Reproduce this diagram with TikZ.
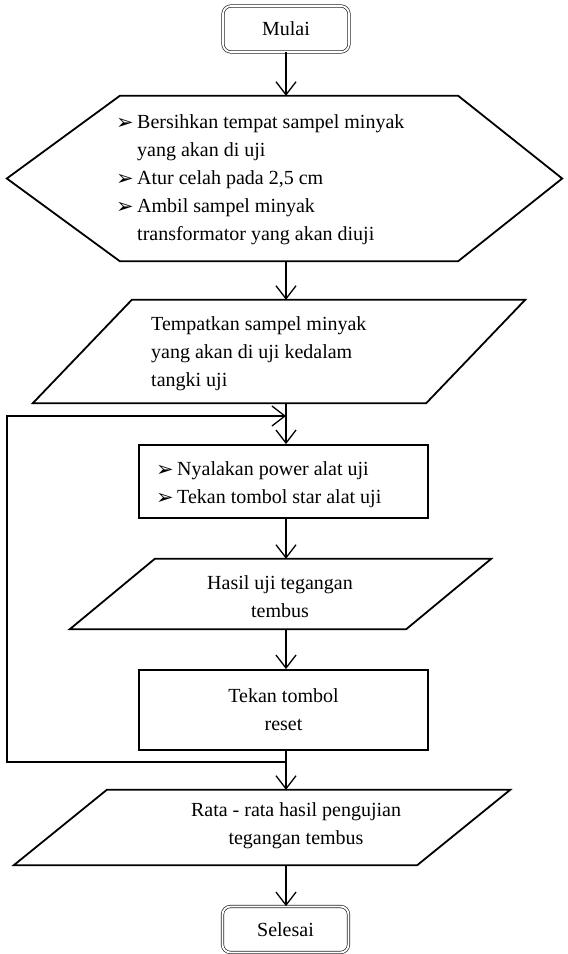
\documentclass[tikz,border=0pt]{standalone}
\usepackage{fontspec}
\setmainfont{Liberation Serif}
\newfontfamily\symfont{DejaVu Sans}
\usetikzlibrary{arrows.meta}
\newcommand\bul{\makebox[21pt][l]{\raisebox{-0.5pt}{\symfont\fontsize{21}{21}\selectfont ➢}}}
\newcommand\ind{\hspace*{21pt}}
\begin{document}
\begin{tikzpicture}[x=1pt,y=-1pt, font=\fontsize{20}{28}\selectfont,
  shapeln/.style={line width=1.8pt, line join=miter},
  conn/.style={line width=1.3pt, -{Straight Barb[length=13pt,width=20pt]}},
  term/.style={draw=black!85, double=white, double distance=1.8pt, line width=0.7pt, rounded corners=8pt, minimum width=126pt, minimum height=46pt, inner sep=0pt},
  box/.style={draw, line width=1.8pt, minimum width=289pt, inner sep=0pt},
  ghost/.style={inner sep=0pt},
  txt/.style={inner sep=0pt, align=left}]
\useasboundingbox (0,0) rectangle (568,954);
\fill[white] (0,0) rectangle (568,954);
\coordinate (ax) at (286,0);
% start
\node[term] (mulai) at (286,29) {Mulai};
% hexagon
\node[ghost, minimum width=338pt, minimum height=165pt] (hex) at (289,178.5) {};
\draw[shapeln] (hex.north west) -- (hex.north east) -- ([xshift=104pt]hex.east) -- (hex.south east) -- (hex.south west) -- ([xshift=-113pt]hex.west) -- cycle;
\node[txt, anchor=west] (hext) at (116,180) {\bul Bersihkan tempat sampel minyak\\\ind yang akan di uji\\\bul Atur celah pada 2,5 cm\\\bul Ambil sampel minyak\\\ind transformator yang akan diuji};
% parallelogram 1
\node[ghost, minimum width=393pt, minimum height=103pt] (p1) at (279,351.5) {};
\draw[shapeln] ([xshift=49.5pt]p1.north west) -- ([xshift=49.5pt]p1.north east) -- ([xshift=-49.5pt]p1.south east) -- ([xshift=-49.5pt]p1.south west) -- cycle;
\node[txt, anchor=west] (p1t) at (151,354) {Tempatkan sampel minyak\\yang akan di uji kedalam\\tangki uji};
% box 2
\node[box, minimum height=73pt] (b2) at (283.5,481.5) {};
\node[txt, anchor=west] (b2t) at (156,485) {\bul Nyalakan power alat uji\\\bul Tekan tombol star alat uji};
% parallelogram 2
\node[ghost, minimum width=336pt, minimum height=70pt] (p2) at (280.5,594) {};
\draw[shapeln] ([xshift=42.5pt]p2.north west) -- ([xshift=42.5pt]p2.north east) -- ([xshift=-42.5pt]p2.south east) -- ([xshift=-42.5pt]p2.south west) -- cycle;
\node[inner sep=0pt, align=center] (p2t) at (280,597) {Hasil uji tegangan\\tembus};
% reset box
\node[box, minimum height=80pt, align=center] (b3) at (283.5,710) {Tekan tombol\\reset};
% parallelogram 3
\node[ghost, minimum width=403pt, minimum height=75pt] (p3) at (262,827.5) {};
\draw[shapeln] ([xshift=46.5pt]p3.north west) -- ([xshift=46.5pt]p3.north east) -- ([xshift=-46.5pt]p3.south east) -- ([xshift=-46.5pt]p3.south west) -- cycle;
\node[inner sep=0pt, align=center] (p3t) at (296,826) {Rata - rata hasil pengujian\\tegangan tembus};
% end
\node[term] (selesai) at (285.5,929.5) {Selesai};
% connectors
\draw[conn] (mulai.south -| ax) -- (hex.north -| ax);
\draw[conn] (hex.south -| ax) -- (p1.north -| ax);
\draw[conn] (p1.south -| ax) -- (b2.north -| ax);
\draw[conn] (b2.south -| ax) -- (p2.north -| ax);
\draw[conn] (p2.south -| ax) -- (b3.north -| ax);
\draw[conn] (b3.south -| ax) -- (p3.north -| ax);
\draw[conn] (p3.south -| ax) -- (selesai.north -| ax);
% loop
\coordinate (jb) at (286,762);
\coordinate (jt) at (286,416);
\coordinate (lx) at (7,0);
\draw[conn] (jb) -- (jb -| lx) -- (jt -| lx) -- (jt);
\end{tikzpicture}
\end{document}
